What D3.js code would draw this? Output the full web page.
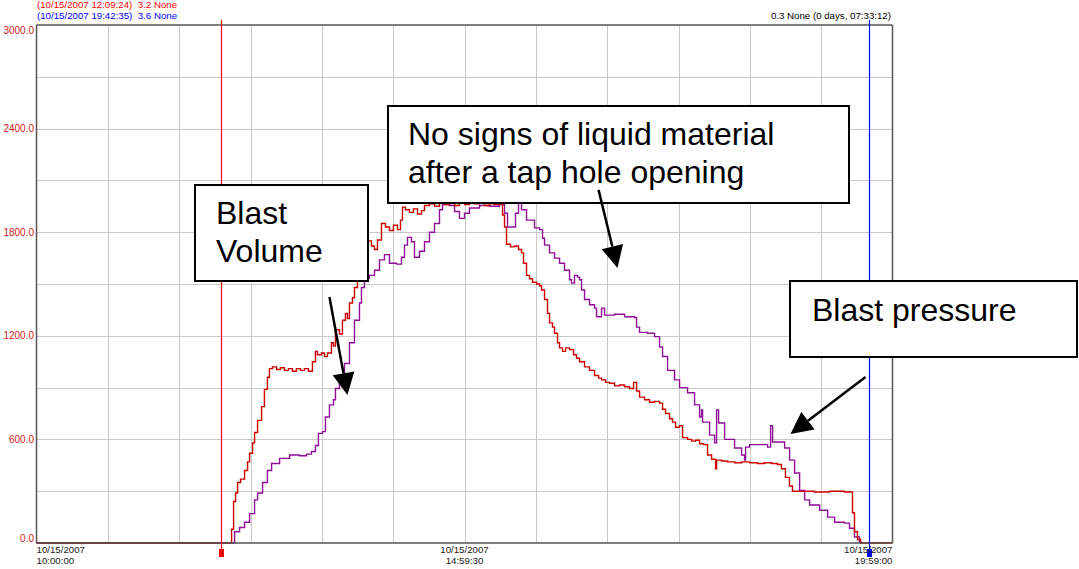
<!DOCTYPE html>
<html>
<head>
<meta charset="utf-8">
<script src="https://cdn.jsdelivr.net/npm/d3@7/dist/d3.min.js"></script>
<style>
  html, body { margin: 0; padding: 0; background: #fff; }
  svg { display: block; font-family: "Liberation Sans", Arial, sans-serif; }
  text { white-space: pre; }
</style>
</head>
<body>
<svg id="chart" width="1079" height="569"></svg>
<script>
// Trend of blast volume and blast pressure, 10/15/2007 10:00:00 – 19:59:00.
// Time is given in minutes after 10:00:00.

// Blast volume (red trace)
const volumeTime = [0, 136.5, 137.9, 139.3, 140.7, 142.8, 145.6, 147.7, 149.1, 151.2, 152.6, 154.7, 157.5, 159.5, 161.6,
  163.0, 165.1, 168.0, 170.7, 173.5, 176.3, 179.1, 181.9, 184.7, 187.5, 190.3, 193.1, 195.2, 196.6, 199.4, 201.5,
  203.6, 206.4, 207.8, 209.2, 212.0, 214.1, 216.2, 217.6, 219.0, 221.1, 222.5, 224.6, 226.0, 227.4, 229.5, 231.6,
  234.4, 236.5, 238.6, 241.4, 244.2, 247.0, 249.8, 252.6, 254.7, 256.1, 258.2, 261.0, 263.8, 266.6, 269.4, 271.5,
  275.0, 278.5, 282.0, 285.5, 289.0, 292.5, 296.0, 299.5, 303.0, 306.5, 310.0, 313.5, 317.0, 320.5, 324.0, 326.1,
  327.5, 328.9, 331.7, 334.5, 337.3, 339.4, 340.8, 342.9, 345.0, 347.1, 349.9, 352.0, 353.4, 355.5, 357.6, 359.0,
  361.1, 362.5, 364.6, 366.0, 368.1, 370.2, 373.0, 375.8, 377.9, 380.0, 383.5, 387.0, 390.5, 393.3, 395.4, 398.2,
  401.0, 404.5, 408.0, 411.5, 415.0, 417.8, 419.9, 422.0, 425.5, 429.0, 432.5, 436.0, 438.1, 440.2, 443.0, 445.1,
  447.2, 450.0, 452.1, 455.6, 458.4, 461.2, 464.0, 466.8, 469.6, 472.4, 475.2, 475.9, 479.4, 483.6, 488.5, 493.4,
  499.0, 504.5, 509.4, 514.3, 518.5, 521.3, 524.1, 526.9, 529.0, 533.9, 544.4, 554.9, 565.4, 570.3, 571.0, 572.4,
  574.5, 576.6, 599];
const volumeValue = [0, 80, 240, 290, 350, 370, 420, 470, 520, 580, 640, 710, 790, 890, 960,
  1010, 1020, 1005, 1015, 1000, 1010, 995, 1010, 1000, 1010, 995, 1050, 1110, 1090, 1100, 1080,
  1100, 1160, 1140, 1235, 1210, 1290, 1330, 1300, 1390, 1420, 1480, 1580, 1650, 1740, 1710, 1750,
  1720, 1700, 1755, 1850, 1830, 1810, 1840, 1815, 1870, 1945, 1930, 1915, 1935, 1905, 1925, 1955,
  1965, 1950, 1970, 1960, 1975, 1955, 1970, 1960, 1975, 1965, 1970, 1955, 1965, 1960, 1965, 1900,
  1830, 1730, 1715, 1720, 1700, 1680, 1620, 1550, 1530, 1510, 1500, 1490, 1465, 1410, 1330, 1275,
  1250, 1215, 1160, 1130, 1110, 1130, 1120, 1090, 1070, 1050, 1020, 1000, 970, 955, 945, 930,
  925, 910, 915, 905, 895, 930, 880, 845, 830, 815, 820, 810, 775, 750, 720, 700,
  670, 680, 610, 600, 590, 595, 575, 570, 510, 485, 430, 480, 475, 470, 465, 470,
  465, 460, 465, 460, 455, 430, 380, 330, 300, 300, 295, 300, 295, 295, 175, 65,
  20, 0, 0];

// Blast pressure (purple trace)
const pressureTime = [0, 137.2, 138.6, 142.1, 145.6, 149.1, 152.6, 154.7, 158.2, 161.6, 164.5, 170.1, 177.1, 184.0,
  188.9, 192.4, 195.2, 197.3, 200.1, 202.2, 205.0, 207.8, 209.2, 212.0, 215.5, 219.0, 222.5, 226.0, 227.4, 229.5,
  233.0, 236.5, 240.0, 243.5, 247.0, 251.9, 255.4, 257.5, 259.6, 262.4, 264.5, 268.0, 271.5, 275.0, 278.5, 282.0,
  284.1, 289.0, 292.5, 296.0, 299.5, 303.0, 310.0, 317.0, 324.0, 327.5, 329.6, 333.1, 335.2, 337.3, 339.4, 342.9,
  348.5, 352.0, 354.1, 355.5, 359.0, 362.5, 366.0, 369.5, 373.0, 374.4, 376.5, 378.6, 380.0, 381.4, 383.5, 387.0,
  390.5, 391.9, 395.4, 397.5, 404.5, 411.5, 418.5, 419.9, 422.0, 427.6, 432.5, 436.0, 438.1, 441.6, 446.5, 450.0,
  455.6, 460.5, 464.0, 465.4, 466.1, 471.0, 474.5, 475.9, 477.3, 481.5, 488.5, 493.4, 495.5, 496.2, 499.0, 506.0,
  511.6, 513.7, 515.1, 520.0, 523.5, 527.0, 530.5, 534.0, 537.5, 541.0, 548.0, 553.6, 558.5, 565.4, 568.9, 572.4,
  575.9, 577.3];
const pressureValue = [0, 0, 65, 90, 120, 170, 250, 290, 350, 420, 460, 490, 510, 505,
  515, 530, 565, 635, 645, 730, 800, 830, 895, 945, 1040, 1160, 1290, 1390, 1480, 1535,
  1550, 1580, 1640, 1670, 1620, 1615, 1655, 1725, 1770, 1745, 1655, 1690, 1745, 1800, 1850, 1930,
  1960, 1955, 1920, 1880, 1910, 1940, 1955, 1950, 1960, 1910, 1830, 1830, 1910, 2000, 1930, 1870,
  1825, 1815, 1765, 1725, 1680, 1650, 1620, 1580, 1525, 1505, 1550, 1540, 1525, 1465, 1410, 1380,
  1360, 1310, 1360, 1320, 1325, 1310, 1305, 1250, 1220, 1215, 1195, 1135, 1080, 1000, 945, 900,
  870, 800, 730, 770, 700, 625, 580, 770, 695, 600, 550, 510, 480, 555, 570, 570,
  555, 680, 585, 585, 550, 480, 405, 305, 250, 220, 190, 150, 120, 115, 85, 35,
  5, 0];

// Axis labels
const yLabelValues = [0, 600, 1200, 1800, 2400, 3000];
const yGridStep = 300;
const xGridCount = 12;
const xLabels = [
  { t: 0,     date: "10/15/2007", time: "10:00:00", anchor: "start" },
  { t: 299.5, date: "10/15/2007", time: "14:59:30", anchor: "middle" },
  { t: 599,   date: "10/15/2007", time: "19:59:00", anchor: "end" }
];

// Cursor readouts
const cursorA = { t: 129.4,   label: "(10/15/2007 12:09:24)  3.2 None", color: "#ff0000" };
const cursorB = { t: 582.583, label: "(10/15/2007 19:42:35)  3.6 None", color: "#0000ff" };
const cursorDelta = "0.3 None (0 days, 07:33:12)";

// Call-outs: boxes in page layout, arrows in chart coordinates
const notes = [
  { lines: ["Blast", "Volume"], box: [195, 185, 173, 96], textX: 216, base: [224, 262],
    from: [205.0, 1425], to: [217.6, 857] },
  { lines: ["No signs of liquid material", "after a tap hole opening"], box: [388, 106, 461, 97], textX: 408, base: [145, 183],
    from: [393.3, 2045], to: [406.6, 1593] },
  { lines: ["Blast pressure"], box: [790, 281, 287, 76], textX: 812, base: [321],
    from: [580.1, 961], to: [527.6, 631] }
];

const svg = d3.select("#chart");
const L = 36.5, R = 892.5, T = 25, B = 543;

const x = d3.scaleLinear().domain([0, 599]).range([L, R]);
const y = d3.scaleLinear().domain([0, 3000]).range([B, T]);

// Grid
const grid = svg.append("g").attr("stroke", "#c8c8c8").attr("stroke-width", 1);
grid.selectAll("line.v").data(d3.range(1, xGridCount)).join("line")
  .attr("x1", i => Math.round(x(599 * i / xGridCount)) + 0.5)
  .attr("x2", i => Math.round(x(599 * i / xGridCount)) + 0.5)
  .attr("y1", T).attr("y2", B);
grid.selectAll("line.h").data(d3.range(yGridStep, 3000, yGridStep)).join("line")
  .attr("y1", d => Math.round(y(d)) + 0.5)
  .attr("y2", d => Math.round(y(d)) + 0.5)
  .attr("x1", L).attr("x2", R);

// Traces
const line = d3.line().x(d => x(d[0])).y(d => y(d[1])).curve(d3.curveStepAfter);
const pressure = d3.zip(pressureTime, pressureValue);
const volume = d3.zip(volumeTime, volumeValue);
svg.append("path").datum(pressure).attr("d", line)
  .attr("fill", "none").attr("stroke", "#8e0f96").attr("stroke-width", 1.4);
svg.append("path").datum(volume).attr("d", line)
  .attr("fill", "none").attr("stroke", "#cc0000").attr("stroke-width", 1.4);

// Frame
const frame = svg.append("g").attr("stroke", "#555").attr("fill", "none");
frame.append("line").attr("x1", L).attr("x2", R).attr("y1", T).attr("y2", T).attr("stroke-width", 1.5);
frame.append("line").attr("x1", R).attr("x2", R).attr("y1", T).attr("y2", B).attr("stroke-width", 1.5);
frame.append("line").attr("x1", L).attr("x2", L).attr("y1", T).attr("y2", B).attr("stroke-width", 1.5);
frame.append("line").attr("x1", L).attr("x2", R).attr("y1", B).attr("y2", B).attr("stroke-width", 1.5);

// Cursors
const cursors = svg.append("g");
[cursorA, cursorB].forEach(c => {
  const cx = Math.round(x(c.t)) + 0.5;
  cursors.append("line").attr("x1", cx).attr("x2", cx).attr("y1", 20).attr("y2", 550)
    .style("stroke", c.color).style("stroke-width", "1.2px");
  cursors.append("rect").attr("x", cx - 2.5).attr("y", 549).attr("width", 5).attr("height", 8)
    .style("fill", c.color);
});

// Y labels
const fmt = d3.format(".1f");
svg.append("g").selectAll("text").data(yLabelValues).join("text")
  .attr("x", 34).attr("y", d => y(d))
  .attr("dy", d => d === 3000 ? "0.85em" : d === 0 ? "-0.1em" : "0.35em")
  .attr("text-anchor", "end").attr("font-size", 10).attr("fill", "#d42020")
  .text(fmt);

// X labels
const xl = svg.append("g").attr("font-size", 9.7).attr("fill", "#222");
xLabels.forEach(d => {
  xl.append("text").attr("x", x(d.t)).attr("y", 553).attr("text-anchor", d.anchor).text(d.date);
  xl.append("text").attr("x", x(d.t)).attr("y", 564).attr("text-anchor", d.anchor).text(d.time);
});

// Cursor readouts
svg.append("text").attr("x", 37).attr("y", 8).attr("font-size", 9.7).attr("fill", cursorA.color).text(cursorA.label);
svg.append("text").attr("x", 37).attr("y", 18.5).attr("font-size", 9.7).attr("fill", cursorB.color).text(cursorB.label);
svg.append("text").attr("x", 891).attr("y", 18.5).attr("font-size", 9.7).attr("fill", "#000")
  .attr("text-anchor", "end").text(cursorDelta);

// Call-outs
notes.forEach(n => {
  const [bx, by, bw, bh] = n.box;
  svg.append("rect").attr("x", bx).attr("y", by).attr("width", bw).attr("height", bh)
    .attr("fill", "#fff").attr("stroke", "#000").attr("stroke-width", 2);
  n.lines.forEach((s, i) => {
    svg.append("text").attr("x", n.textX).attr("y", n.base[i])
      .attr("font-size", 32).attr("fill", "#000").text(s);
  });
});
notes.forEach(n => {
  const x0 = x(n.from[0]), y0 = y(n.from[1]), x1 = x(n.to[0]), y1 = y(n.to[1]);
  const ang = Math.atan2(y1 - y0, x1 - x0);
  const hl = 22, hw = 11;
  const bxp = x1 - hl * Math.cos(ang), byp = y1 - hl * Math.sin(ang);
  svg.append("line").attr("x1", x0).attr("y1", y0).attr("x2", bxp).attr("y2", byp)
    .attr("stroke", "#000").attr("stroke-width", 2.5);
  const px = -Math.sin(ang) * hw, py = Math.cos(ang) * hw;
  svg.append("path")
    .attr("d", `M${x1},${y1}L${bxp + px},${byp + py}L${bxp - px},${byp - py}Z`)
    .attr("fill", "#000");
});
</script>
</body>
</html>
